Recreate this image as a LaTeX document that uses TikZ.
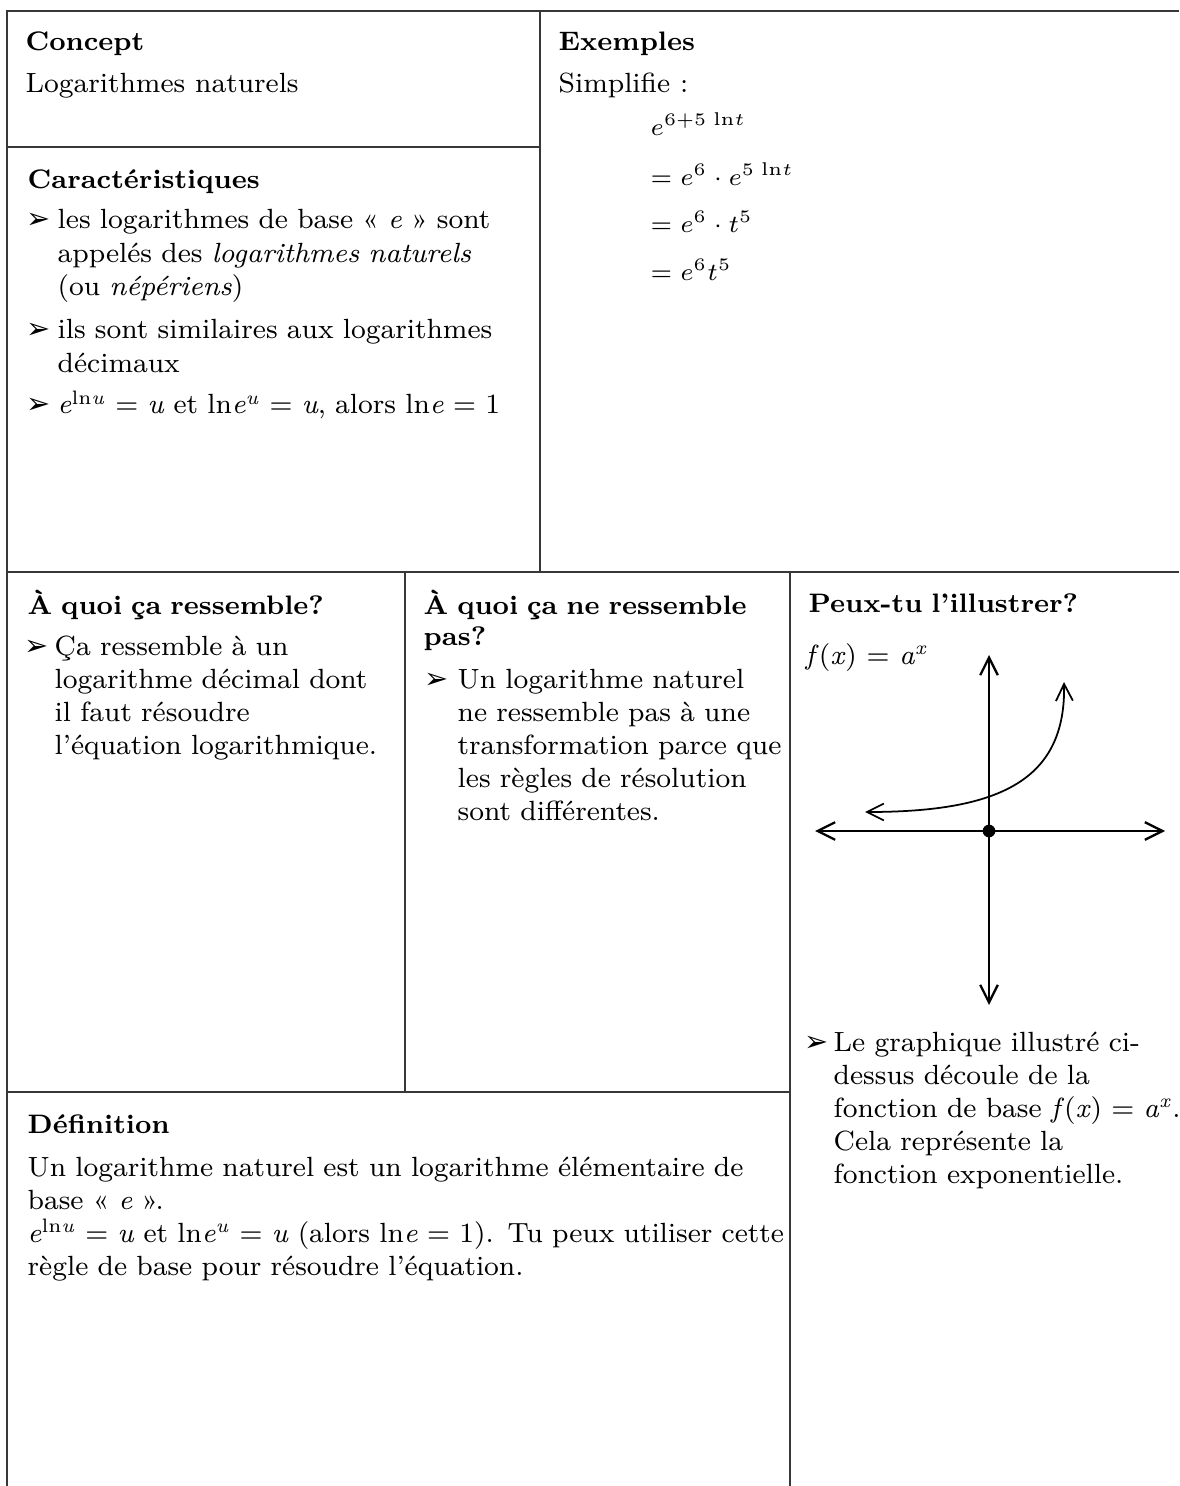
\documentclass[tikz,border=0pt]{standalone}
\usepackage{fontspec}
\newfontfamily\pucefont{DejaVu Sans}
\usetikzlibrary{arrows.meta}
\usepackage{xcolor}
\definecolor{CadreGris}{RGB}{55, 55, 55}

\begin{document}
\begin{tikzpicture}[
    % x/y = 1 px of the card, y grows downwards
    x=0.01cm, y=-0.01cm,
    grille/.style={draw=CadreGris, line width=0.6pt},
    titre/.style={anchor=base west, inner sep=0pt, text width=7cm, align=left,
                  font=\fontsize{7.6}{9.0}\selectfont\bfseries},
    texte/.style={anchor=base west, inner sep=0pt,
                  font=\fontsize{7.9}{9.4}\selectfont},
    formule/.style={anchor=base west, inner sep=0pt,
                    font=\fontsize{7.5}{9.4}\selectfont},
    bloc/.style={anchor=base west, inner sep=0pt, text width=8cm, align=left,
                 font=\fontsize{7.9}{9.4}\selectfont},
    puce/.style={anchor=base west, inner sep=0pt,
                 font=\pucefont\fontsize{8.2}{8.2}\selectfont},
    axe/.style={{Straight Barb[length=5pt, width=5pt]}-{Straight Barb[length=5pt, width=5pt]},
                line width=0.65pt},
    courbe/.style={{Straight Barb[length=4.8pt, width=4.8pt]}-{Straight Barb[length=4.8pt, width=4.8pt]},
                   line width=0.5pt}
  ]
  \useasboundingbox (0,0) rectangle (1179,1486);

  % ── Card grid ─────────────────────────────────────────────────────────────
  \draw[grille] (7,1486) -- (7,11) -- (1179,11);
  \draw[grille] (540,11) -- (540,572);
  \draw[grille] (7,147) -- (540,147);
  \draw[grille] (7,572) -- (1179,572);
  \draw[grille] (405,572) -- (405,1092);
  \draw[grille] (7,1092) -- (790,1092);
  \draw[grille] (790,572) -- (790,1486);

  % ── Concept ───────────────────────────────────────────────────────────────
  \node[titre] (concept)    at (25,51) {Concept};
  \node[texte] (conceptTxt) at (25,93) {Logarithmes naturels};

  % ── Exemples ──────────────────────────────────────────────────────────────
  \node[titre] (exemples)  at (558,51) {Exemples};
  \node[texte] (simplifie) at (558,93) {Simplifie :};
  \node[formule] (ex1) at (650,136) {$e^{6+5\;\mathrm{ln}t}$};
  \node[formule] (ex2) at (650,186) {$= e^{6}\cdot e^{5\;\mathrm{ln}t}$};
  \node[formule] (ex3) at (650,233) {$= e^{6}\cdot t^{5}$};
  \node[formule] (ex4) at (650,281) {$= e^{6}t^{5}$};

  % ── Caractéristiques ──────────────────────────────────────────────────────
  \node[titre] (carac) at (27,189) {Caractéristiques};
  \node[puce]  (pc1)   at (26,229) {➢};
  \node[bloc]  (c1)    at (57,229)
        {les logarithmes de base « \textit{e} » sont\\
         appelés des \textit{logarithmes naturels}\\
         (ou \textit{népériens})};
  \node[puce]  (pc2)   at (26,339) {➢};
  \node[bloc]  (c2)    at (57,339)
        {ils sont similaires aux logarithmes\\ décimaux};
  \node[puce]  (pc3)   at (26,414) {➢};
  \node[bloc]  (c3)    at (57,414)
        {\textit{e}\textsuperscript{ln\textit{u}} = \textit{u} et
         ln\textit{e}\textsuperscript{\textit{u}} = \textit{u}, alors
         ln\textit{e} = 1};

  % ── À quoi ça ressemble? ──────────────────────────────────────────────────
  \node[titre] (ress)  at (27,614) {À quoi ça ressemble?};
  \node[puce]  (pr1)   at (24,655) {➢};
  \node[bloc]  (r1)    at (54,655)
        {Ça ressemble à un\\ logarithme décimal dont\\ il faut résoudre\\
         l’équation logarithmique.};

  % ── À quoi ça ne ressemble pas? ───────────────────────────────────────────
  \node[titre] (pasress) at (423,614) {À quoi ça ne ressemble\\ pas?};
  \node[puce]  (pn1)     at (424,688) {➢};
  \node[bloc]  (n1)      at (457,688)
        {Un logarithme naturel\\ ne ressemble pas à une\\
         transformation parce que\\ les règles de résolution\\
         sont différentes.};

  % ── Peux-tu l'illustrer? ──────────────────────────────────────────────────
  \node[titre] (illus) at (808,613) {Peux-tu l’illustrer?};
  \node[texte] (fx)    at (805,664)
        {\textit{f}(\textit{x}) = \textit{a}\textsuperscript{\textit{x}}};

  % axes, origin dot and the exponential curve
  \coordinate (O)     at (989,831);
  \coordinate (xgau)  at (815,831);
  \coordinate (xdro)  at (1165,831);
  \coordinate (yhaut) at (989,655);
  \coordinate (ybas)  at (989,1005);
  \draw[axe] (xgau) -- (xdro);
  \draw[axe] (yhaut) -- (ybas);
  \fill (O) circle[radius=1.8pt];
  \coordinate (cgau)  at (865,812);
  \coordinate (chaut) at (1064,682);
  \draw[courbe] (cgau) .. controls (1000,812) and (1066,780) .. (chaut);

  \node[puce] (pg1) at (804,1051) {➢};
  \node[bloc] (g1)  at (833,1051)
        {Le graphique illustré ci-\\ dessus découle de la\\
         fonction de base \textit{f}(\textit{x}) = \textit{a}\textsuperscript{\textit{x}}.\\
         Cela représente la\\ fonction exponentielle.};

  % ── Définition ────────────────────────────────────────────────────────────
  \node[titre] (defin) at (27,1133) {Définition};
  \node[bloc] (d1) at (27,1176)
        {Un logarithme naturel est un logarithme élémentaire de\\
         base « \textit{e} ».\\
         \textit{e}\textsuperscript{ln\textit{u}} = \textit{u} et
         ln\textit{e}\textsuperscript{\textit{u}} = \textit{u} (alors
         ln\textit{e} = 1). Tu peux utiliser cette\\
         règle de base pour résoudre l’équation.};

\end{tikzpicture}
\end{document}
